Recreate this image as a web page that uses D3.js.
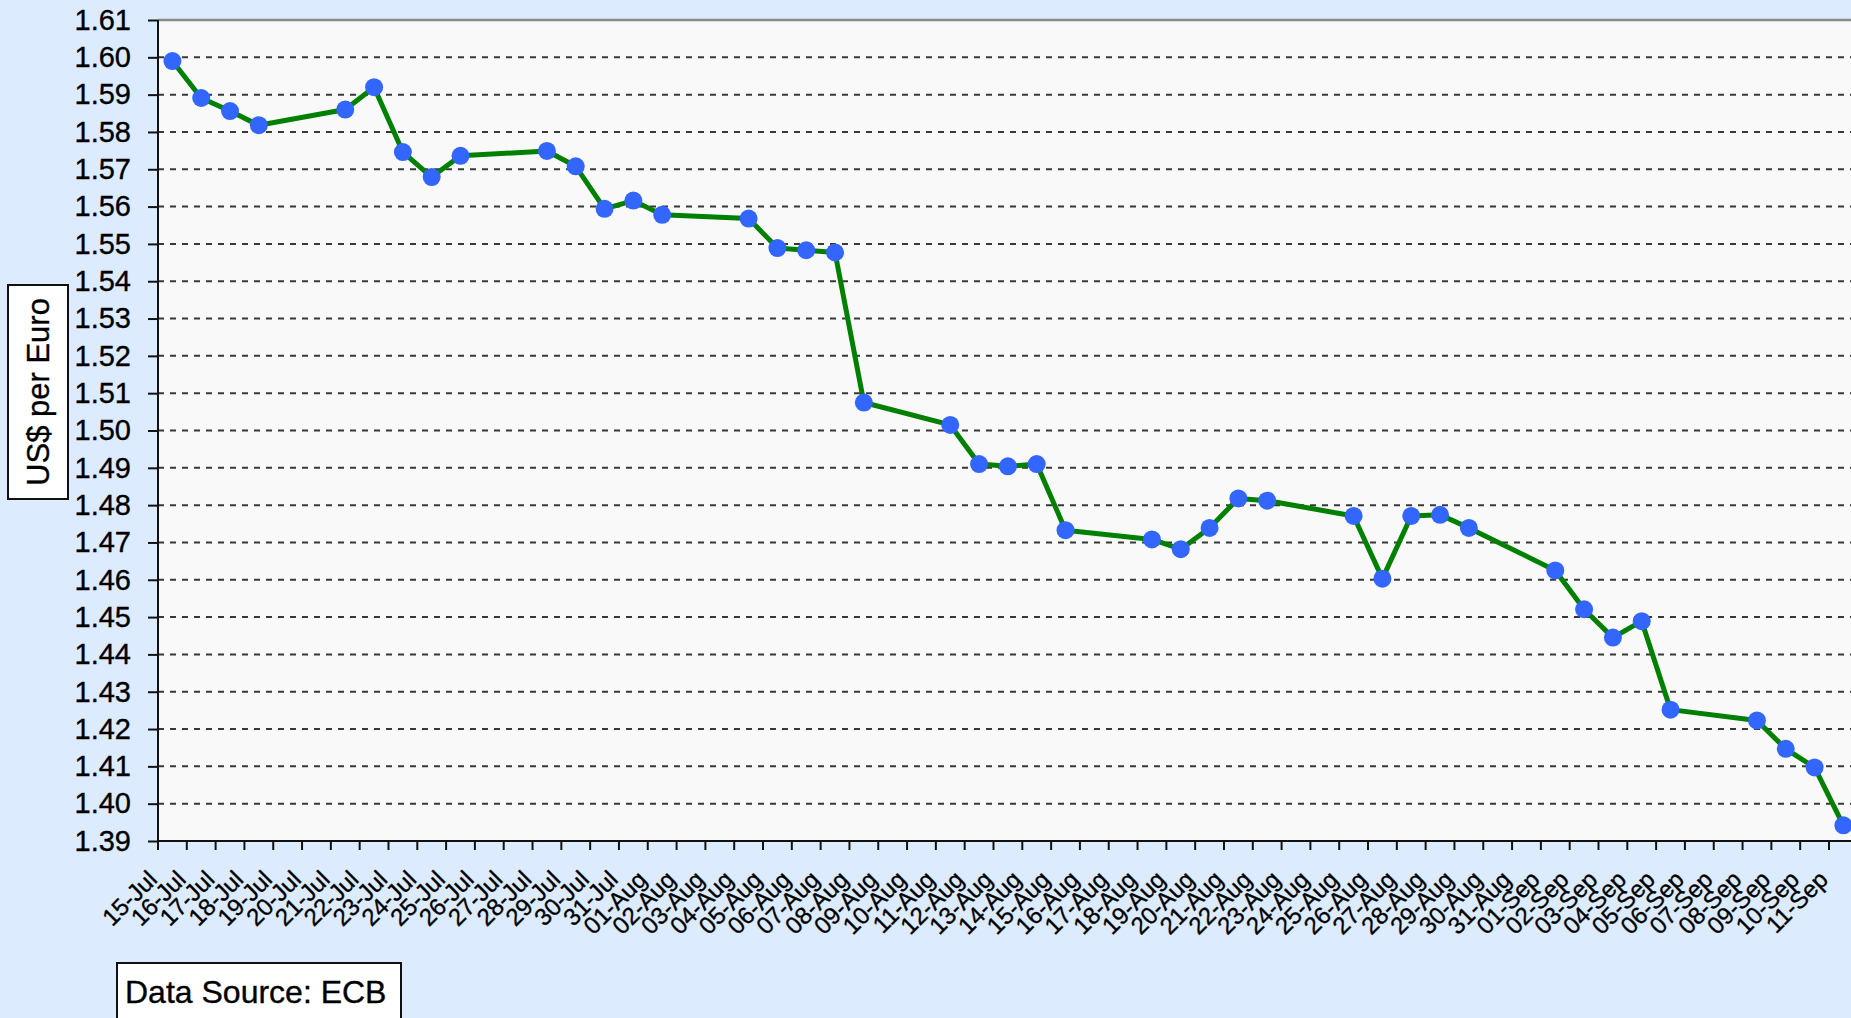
<!DOCTYPE html>
<html lang="en">
<head>
<meta charset="utf-8">
<title>US$ per Euro</title>
<script src="https://d3js.org/d3.v7.min.js"></script>
<style>
  body { margin: 0; background: #dcecfe; }
  svg { display: block; font-family: "Liberation Sans", Arial, sans-serif; }
  svg text { stroke: #000; stroke-width: 0.35px; }
</style>
</head>
<body>
<svg id="chart" width="1851" height="1018"></svg>
<script>
// categories: every calendar day, ECB fixings only on working days
var days = ["15-Jul","16-Jul","17-Jul","18-Jul","19-Jul","20-Jul","21-Jul","22-Jul","23-Jul","24-Jul",
            "25-Jul","26-Jul","27-Jul","28-Jul","29-Jul","30-Jul","31-Jul","01-Aug","02-Aug","03-Aug",
            "04-Aug","05-Aug","06-Aug","07-Aug","08-Aug","09-Aug","10-Aug","11-Aug","12-Aug","13-Aug",
            "14-Aug","15-Aug","16-Aug","17-Aug","18-Aug","19-Aug","20-Aug","21-Aug","22-Aug","23-Aug",
            "24-Aug","25-Aug","26-Aug","27-Aug","28-Aug","29-Aug","30-Aug","31-Aug","01-Sep","02-Sep",
            "03-Sep","04-Sep","05-Sep","06-Sep","07-Sep","08-Sep","09-Sep","10-Sep","11-Sep"];

var rates = [1.5990, 1.5891, 1.5856, 1.5818, null, null, 1.5860, 1.5920, 1.5746, 1.5679,
             1.5736, null, null, 1.5749, 1.5708, 1.5594, 1.5616, 1.5578, null, null,
             1.5568, 1.5489, 1.5483, 1.5477, 1.5075, null, null, 1.5015, 1.4910, 1.4904,
             1.4910, 1.4733, null, null, 1.4708, 1.4682, 1.4739, 1.4818, 1.4812, null,
             null, 1.4771, 1.4603, 1.4771, 1.4774, 1.4739, null, null, 1.4625, 1.4521,
             1.4445, 1.4489, 1.4252, null, null, 1.4223, 1.4147, 1.4097, 1.3942];

var yTicks = [1.39, 1.40, 1.41, 1.42, 1.43, 1.44, 1.45, 1.46, 1.47, 1.48, 1.49, 1.50,
              1.51, 1.52, 1.53, 1.54, 1.55, 1.56, 1.57, 1.58, 1.59, 1.60, 1.61];

var yTitle = "US$ per Euro",
    source = "Data Source: ECB";

function chart() {
    var svg = d3.select("#chart");

    var left = 158, plotTop = 20, bottom = 841, bandW = 28.81;
    var right = left + days.length * bandW;

    var x = d3.scaleBand().domain(days).range([left, right]).padding(0);
    var y = d3.scaleLinear().domain([1.39, 1.61]).range([bottom, plotTop]);

    // plot area
    svg.append("rect")
        .attr("x", left).attr("y", plotTop)
        .attr("width", right - left).attr("height", bottom - plotTop)
        .attr("fill", "#f9f9f9");

    // dashed gridlines
    svg.append("g").selectAll("line")
        .data(yTicks.filter(function(d) { return d > 1.395 && d < 1.605; }))
        .join("line")
        .attr("x1", left).attr("x2", right)
        .attr("y1", function(d) { return y(d); })
        .attr("y2", function(d) { return y(d); })
        .attr("stroke", "#383838")
        .attr("stroke-width", 2)
        .attr("stroke-dasharray", "6,6");

    // top border
    svg.append("line")
        .attr("x1", left).attr("x2", right)
        .attr("y1", plotTop).attr("y2", plotTop)
        .attr("stroke", "#8a8a8a").attr("stroke-width", 2.5);

    // y axis
    var yAxis = svg.append("g")
        .attr("transform", "translate(" + left + ",0)")
        .call(d3.axisLeft(y).tickValues(yTicks).tickSize(10).tickPadding(17).tickFormat(d3.format(".2f")));
    yAxis.select(".domain").remove();
    yAxis.selectAll(".tick line").attr("stroke", "#111").attr("stroke-width", 2);
    yAxis.selectAll(".tick text")
        .attr("fill", "#000")
        .style("font-size", "29px")
        .style("font-family", "'Liberation Sans', Arial, sans-serif");

    svg.append("line")
        .attr("x1", left).attr("x2", left)
        .attr("y1", plotTop).attr("y2", bottom)
        .attr("stroke", "#111").attr("stroke-width", 2);

    // x axis: ticks at band edges, labels at band centres
    var edges = days.map(function(d) { return x(d); }).concat([right]);
    svg.append("g").selectAll("line")
        .data(edges)
        .join("line")
        .attr("x1", function(d) { return d; }).attr("x2", function(d) { return d; })
        .attr("y1", bottom).attr("y2", bottom + 9)
        .attr("stroke", "#111").attr("stroke-width", 2);

    svg.append("line")
        .attr("x1", left).attr("x2", right)
        .attr("y1", bottom).attr("y2", bottom)
        .attr("stroke", "#111").attr("stroke-width", 2);

    svg.append("g").selectAll("text")
        .data(days)
        .join("text")
        .attr("transform", function(d) {
            return "translate(" + (x(d) + x.bandwidth() / 2 - 14) + "," + (bottom + 40) + ") rotate(-45)";
        })
        .attr("text-anchor", "end")
        .attr("font-size", 24)
        .attr("fill", "#000")
        .text(function(d) { return d; });

    // series: connect the working-day fixings only
    var pts = days.map(function(d, i) { return {day: d, v: rates[i]}; })
        .filter(function(p) { return p.v !== null; });

    var line = d3.line()
        .x(function(p) { return x(p.day) + x.bandwidth() / 2; })
        .y(function(p) { return y(p.v); });

    svg.append("path")
        .datum(pts)
        .attr("d", line)
        .attr("fill", "none")
        .attr("stroke", "#008000")
        .attr("stroke-width", 5)
        .attr("stroke-linejoin", "round");

    svg.append("g").selectAll("circle")
        .data(pts)
        .join("circle")
        .attr("cx", function(p) { return x(p.day) + x.bandwidth() / 2; })
        .attr("cy", function(p) { return y(p.v); })
        .attr("r", 9)
        .attr("fill", "#3366ff");

    // y title box
    svg.append("rect")
        .attr("x", 8).attr("y", 285).attr("width", 60).attr("height", 214)
        .attr("fill", "#fff").attr("stroke", "#111").attr("stroke-width", 2);
    svg.append("text")
        .attr("transform", "translate(38,392) rotate(-90)")
        .attr("text-anchor", "middle")
        .attr("dominant-baseline", "central")
        .attr("font-size", 31)
        .attr("fill", "#000")
        .text(yTitle);

    // source box
    svg.append("rect")
        .attr("x", 117).attr("y", 963).attr("width", 284).attr("height", 80)
        .attr("fill", "#fff").attr("stroke", "#111").attr("stroke-width", 2);
    svg.append("text")
        .attr("x", 125).attr("y", 1003)
        .attr("font-size", 32)
        .attr("fill", "#000")
        .text(source);
}
chart();
</script>
</body>
</html>
